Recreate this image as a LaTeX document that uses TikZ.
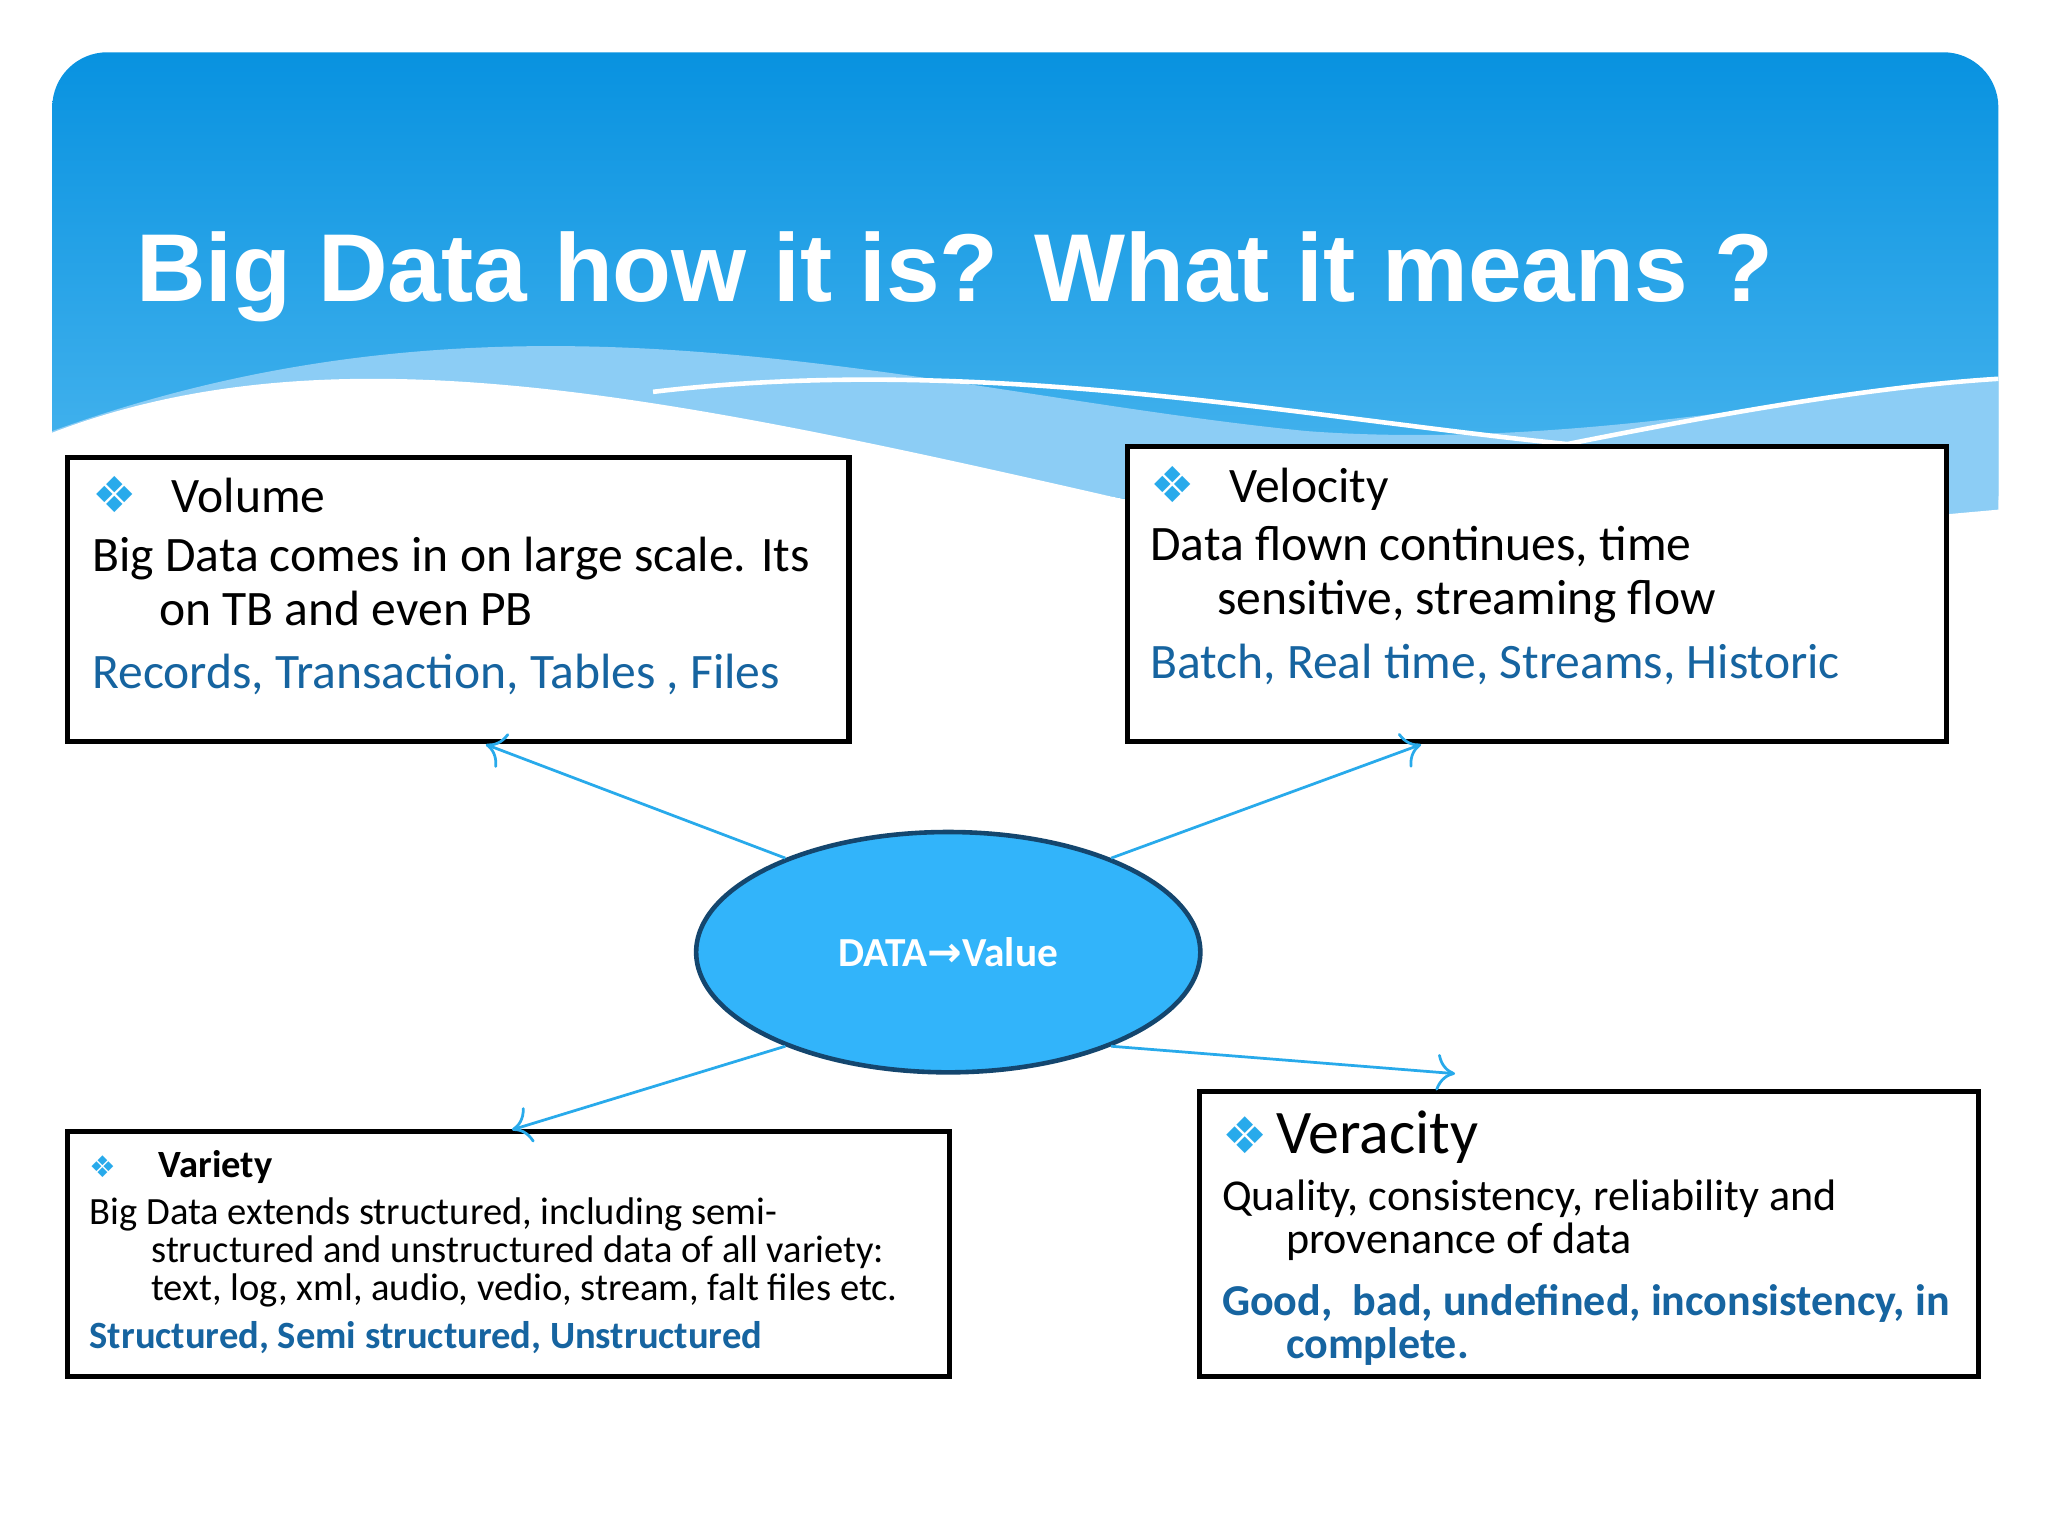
\documentclass[tikz,border=0pt]{standalone}
\usepackage{fontspec}
\setmainfont{Carlito}
\newfontfamily\titlefont{Liberation Sans}
\newfontfamily\symfont{DejaVu Sans}
\usetikzlibrary{shapes.geometric,arrows.meta}
\definecolor{hdtop}{RGB}{8,146,224}
\definecolor{hdbot}{RGB}{80,185,240}
\definecolor{wave}{RGB}{140,205,245}
\definecolor{bluetxt}{RGB}{22,100,160}
\definecolor{ellfill}{RGB}{50,180,250}
\definecolor{elldraw}{RGB}{20,70,110}
\definecolor{arr}{RGB}{40,170,235}
\tikzset{
  box/.style={draw=black,fill=white,line width=1.1pt},
  conn/.style={draw=arr,line width=0.6pt,-{To[length=4pt,width=8pt]}},
  body/.style={anchor=north west,align=left,inner sep=0pt,font=\fontsize{10.8}{11.8}\selectfont},
}
\newcommand{\bsym}{{\symfont\color{arr}\char"2756}}
\begin{document}
\begin{tikzpicture}[x=0.1mm,y=-0.1mm]
\useasboundingbox (0,0) rectangle (1568,1176);
\fill[white] (0,0) rectangle (1568,1176);
% header
\shade[top color=hdtop,bottom color=hdbot,rounded corners=12pt] (40,40) rectangle (1530,420);
\fill[wave] (40,330) .. controls (400,200) and (700,300) .. (1000,330) .. controls (1200,345) and (1400,300) .. (1530,290) -- (1530,400) .. controls (1300,450) and (1100,420) .. (850,380) .. controls (600,330) and (300,260) .. (40,335) -- cycle;
\fill[white] (38,332) .. controls (250,250) and (500,300) .. (850,380) .. controls (1000,410) and (1100,420) .. (1200,420) -- (1532,390) -- (1532,1176) -- (38,1176) -- cycle;
\draw[white,line width=1pt] (500,300) .. controls (750,270) and (1000,320) .. (1200,340);
\draw[white,line width=1pt] (1200,340) .. controls (1350,310) and (1450,295) .. (1530,290);
\node[anchor=west,text=white,font=\titlefont\bfseries\fontsize{21}{24}\selectfont] (title) at (92,212) {Big Data how it is? What it means ?};
% boxes
\draw[box] (52,350) rectangle (650,568);
\draw[box] (863,342) rectangle (1490,568);
\draw[box] (52,866) rectangle (727,1054);
\draw[box] (918,836) rectangle (1515,1054);
% Volume
\node[body] (vol) at (70,364) {\bsym\hspace{0.7em}Volume\\[1pt]
Big Data comes in on large scale. Its\\
\hspace{1.35em}on TB and even PB\\[2pt]
\textcolor{bluetxt}{Records, Transaction, Tables , Files}};
% Velocity
\node[body] (vel) at (880,356) {\bsym\hspace{0.7em}Velocity\\[1pt]
Data flown continues, time\\
\hspace{1.35em}sensitive, streaming flow\\[2pt]
\textcolor{bluetxt}{Batch, Real time, Streams, Historic}};
% Variety
\node[body,font=\fontsize{8.4}{8.3}\selectfont] (var) at (68,880) {{\fontsize{6.5}{7}\selectfont\bsym}\hspace{1.1em}\textbf{Variety}\\[2pt]
Big Data extends structured, including semi-\\
\hspace{1.6em}structured and unstructured data of all variety:\\
\hspace{1.6em}text, log, xml, audio, vedio, stream, falt files etc.\\[2pt]
\textcolor{bluetxt}{\textbf{Structured, Semi structured, Unstructured}}};
% Veracity
\node[body,font=\fontsize{9.6}{9.4}\selectfont] (ver) at (935,850) {{\fontsize{11}{12}\selectfont\bsym}\hspace{0.2em}{\fontsize{13.5}{14}\selectfont Veracity}\\[3pt]
Quality, consistency, reliability and\\
\hspace{1.45em}provenance of data\\[4pt]
\textcolor{bluetxt}{\textbf{Good,\ \ bad, undefined, inconsistency, in}}\\
\hspace{1.45em}\textcolor{bluetxt}{\textbf{complete.}}};
% ellipse
\node[ellipse,draw=elldraw,line width=1pt,fill=ellfill,minimum width=38.6mm,minimum height=18.4mm,inner sep=0pt,text=white,font=\bfseries\fontsize{9}{10}\selectfont] (data) at (726,729) {DATA{\symfont\char"2192}Value};
\coordinate (pvol) at (372,570);
\coordinate (pvel) at (1088,570);
\coordinate (pvar) at (392,865);
\coordinate (pver) at (1114,822);
\draw[conn] (data.150) -- (pvol);
\draw[conn] (data.30) -- (pvel);
\draw[conn] (data.-150) -- (pvar);
\draw[conn] (data.-30) -- (pver);
\end{tikzpicture}
\end{document}
